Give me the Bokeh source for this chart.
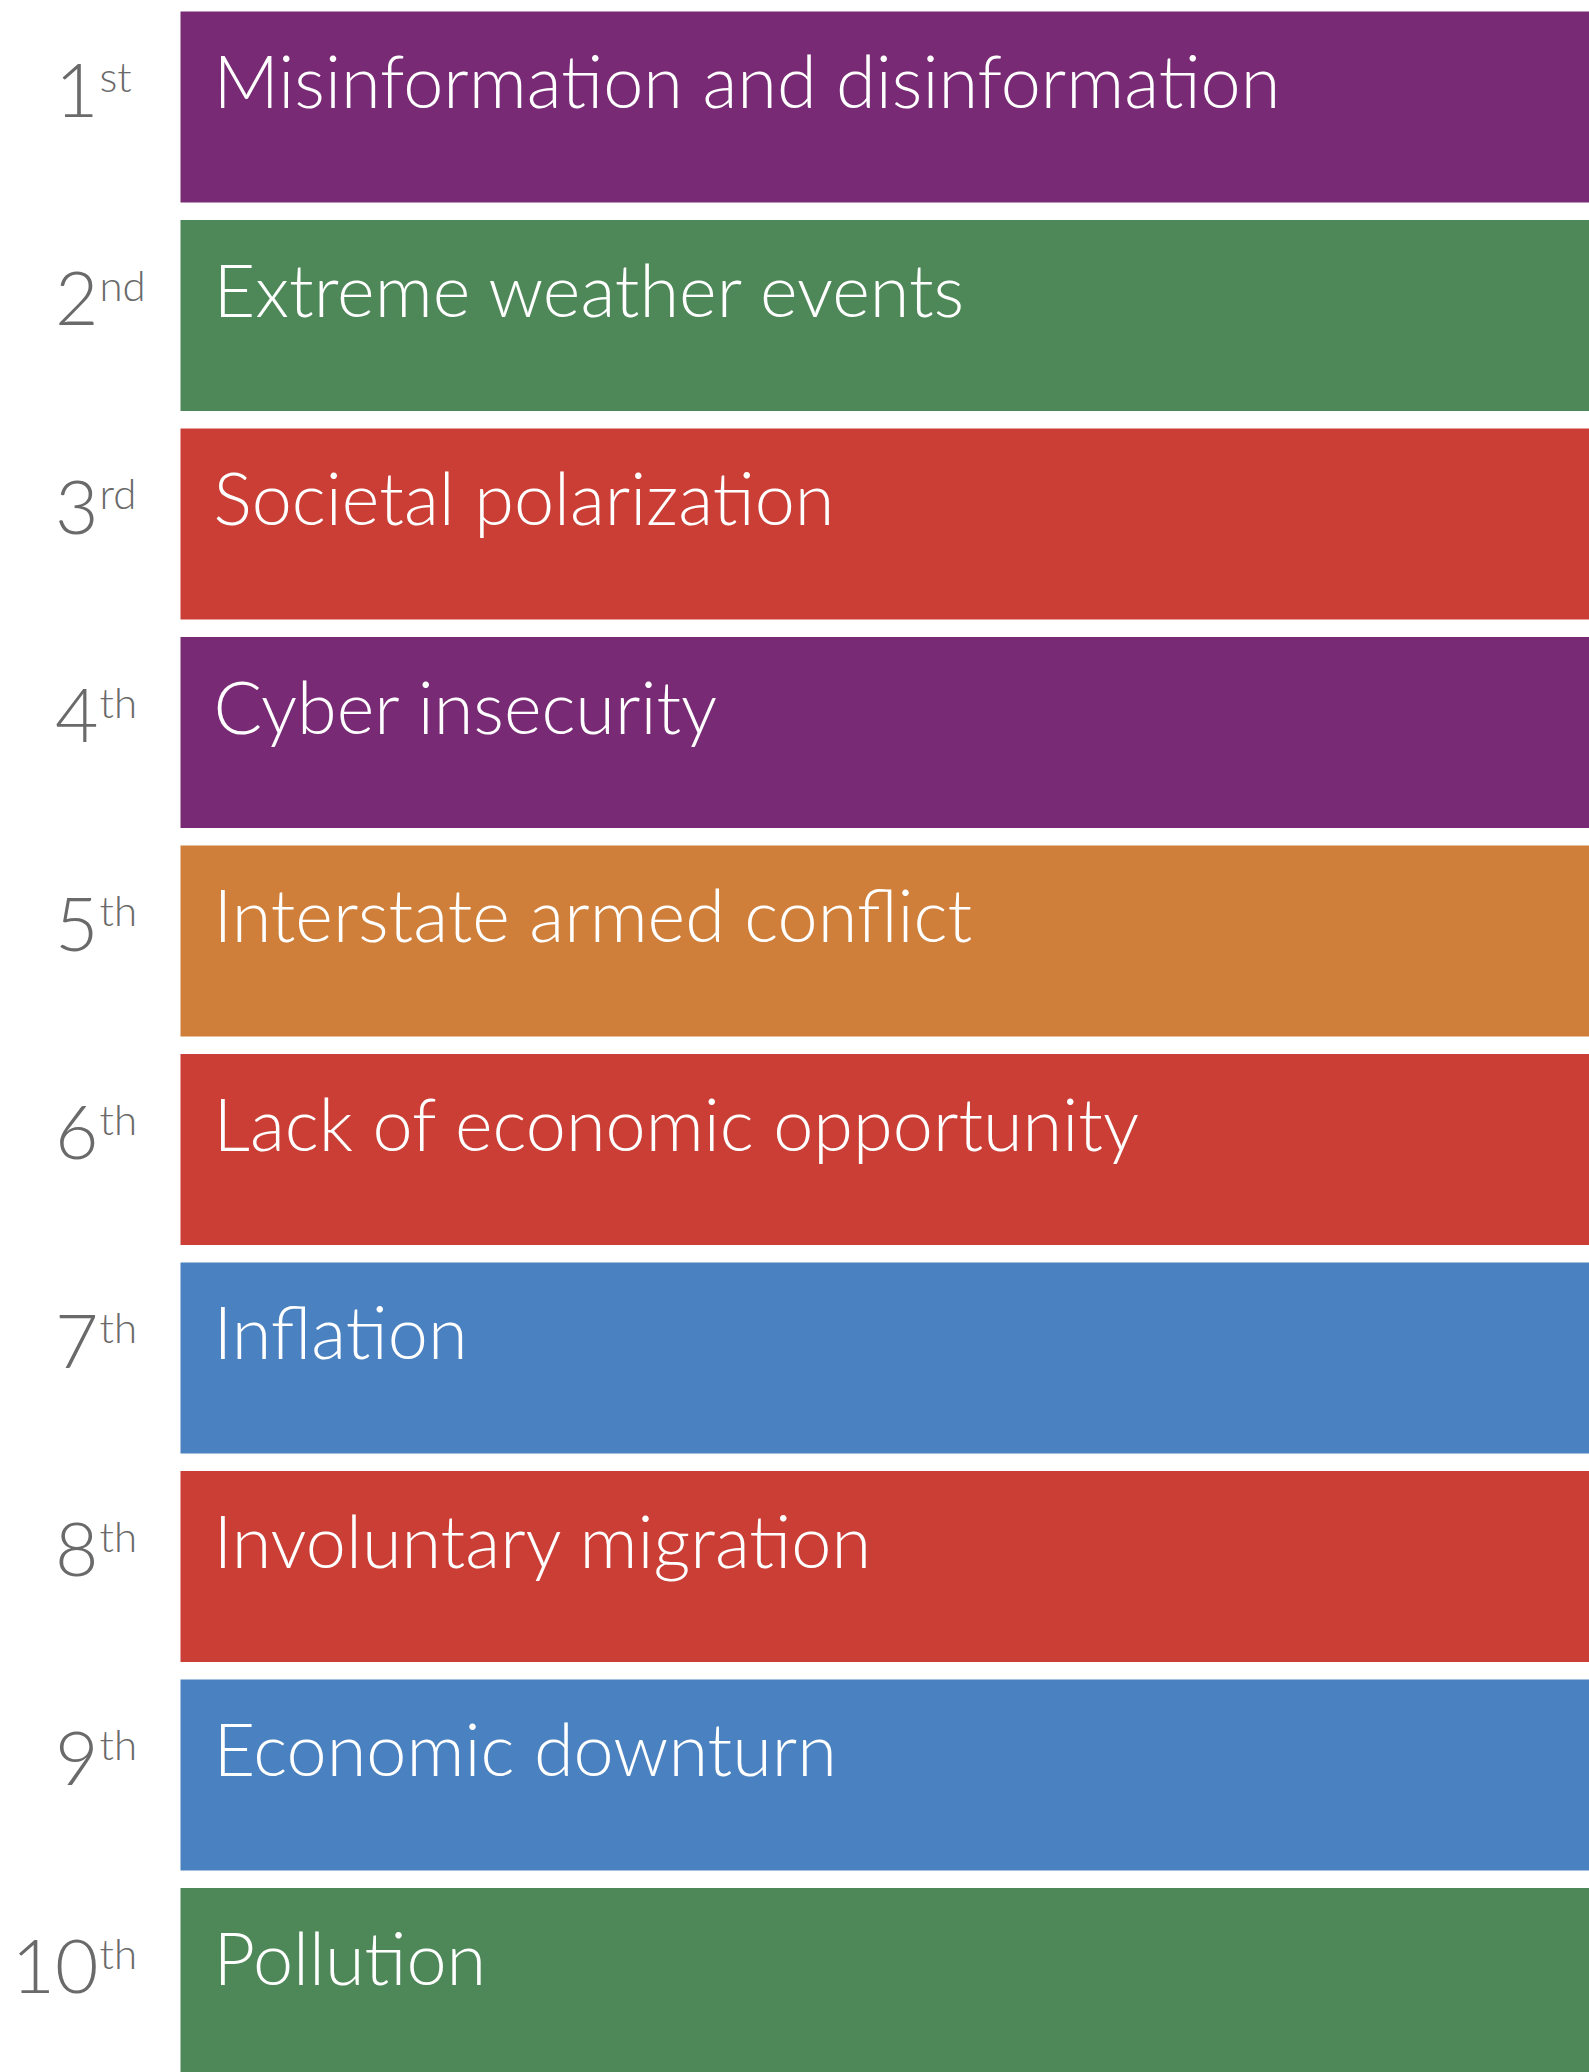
from bokeh.plotting import figure
from bokeh.models import Range1d, ColumnDataSource
from bokeh.embed import file_html
from bokeh.resources import INLINE
from bokeh.core.properties import value

# ---- data ----
ranks = [1, 2, 3, 4, 5, 6, 7, 8, 9, 10]
rank_numbers = ["1", "2", "3", "4", "5", "6", "7", "8", "9", "10"]
rank_suffixes = ["st", "nd", "rd", "th", "th", "th", "th", "th", "th", "th"]
risks = [
    "Misinformation and disinformation",
    "Extreme weather events",
    "Societal polarization",
    "Cyber insecurity",
    "Interstate armed conflict",
    "Lack of economic opportunity",
    "Inflation",
    "Involuntary migration",
    "Economic downturn",
    "Pollution",
]
categories = ["Technological", "Environmental", "Societal", "Technological", "Geopolitical",
              "Societal", "Economic", "Societal", "Economic", "Environmental"]

palette = {
    "Technological": "#782A74",
    "Environmental": "#4E8758",
    "Societal": "#CB3E36",
    "Geopolitical": "#CF7F3A",
    "Economic": "#4A81C0",
}
colors = [palette[c] for c in categories]

# ---- layout (reference pixels) ----
W, H = 1589, 2072
PITCH = 208.5
BAR_H = 191 / PITCH
center1 = 106.5
y_top = 1 - center1 / PITCH
y_bot = 1 + (H - center1) / PITCH

src = ColumnDataSource(dict(
    rank=ranks, num=rank_numbers, suf=rank_suffixes, risk=risks, color=colors,
    left=[180] * len(ranks), right=[1700] * len(ranks),
    tx=[213] * len(ranks), nx=[98] * len(ranks), sx=[99] * len(ranks),
))

p = figure(width=W, height=H, output_backend="svg", toolbar_location=None,
           x_range=Range1d(0, W), y_range=Range1d(y_bot, y_top),
           min_border=0, min_border_left=0, min_border_right=0,
           min_border_top=0, min_border_bottom=0)
p.axis.visible = False
p.grid.visible = False
p.outline_line_color = None
p.background_fill_color = "white"
p.border_fill_color = "white"

p.hbar(y="rank", left="left", right="right", height=BAR_H, fill_color="color",
       line_color=None, source=src)

FONT = value("Lato Light")
p.text(x="tx", y="rank", text="risk", source=src, text_font=FONT,
       text_font_size="72px", text_color="white", text_baseline="alphabetic",
       text_align="left", y_offset=-27)
p.text(x="nx", y="rank", text="num", source=src, text_font=FONT,
       text_font_size="75px", text_color="#6A6A6A", text_baseline="alphabetic",
       text_align="right", y_offset=-17)
p.text(x="sx", y="rank", text="suf", source=src, text_font=FONT,
       text_font_size="42px", text_color="#6A6A6A", text_baseline="alphabetic",
       text_align="left", y_offset=-31)

open("out.html", "w").write(file_html(p, INLINE))
